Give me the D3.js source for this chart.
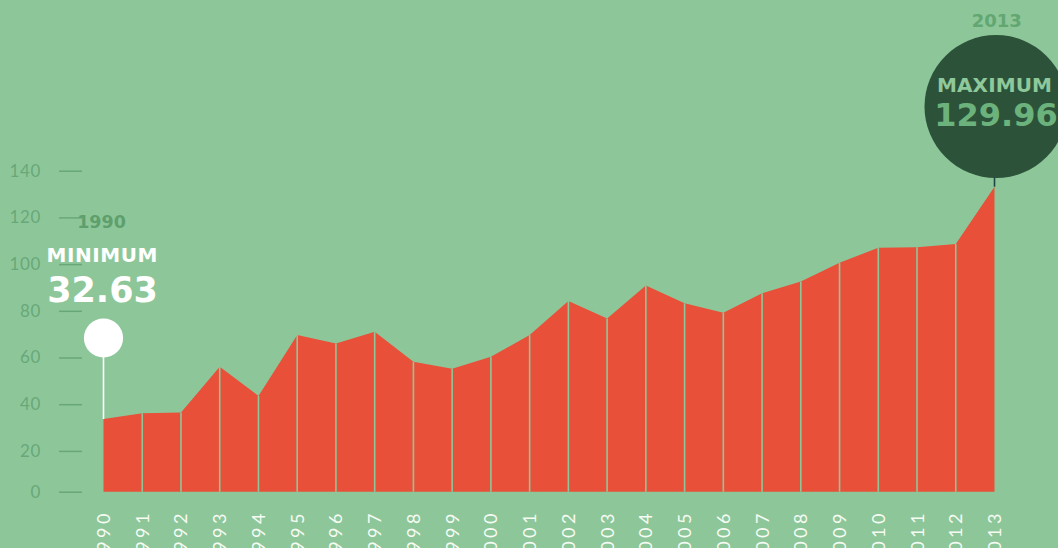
<!DOCTYPE html>
<html>
<head>
<meta charset="utf-8">
<script src="https://cdn.jsdelivr.net/npm/d3@7"></script>
<style>
  html, body { margin: 0; padding: 0; background: #8dc799; overflow: hidden; }
  svg { display: block; }
</style>
</head>
<body>
<svg id="chart" width="1058" height="548"></svg>
<script>
// Yearly series
const years = ["1990","1991","1992","1993","1994","1995","1996","1997","1998","1999","2000","2001",
               "2002","2003","2004","2005","2006","2007","2008","2009","2010","2011","2012","2013"];
const values = [32.63, 35.0, 35.4, 54.5, 42.3, 67.8, 64.3, 69.2, 56.6, 53.7, 58.7, 67.8,
                82.1, 74.7, 88.6, 81.1, 77.2, 85.3, 90.2, 98.1, 104.4, 104.6, 106.0, 129.96];
const yTicks = [0, 20, 40, 60, 80, 100, 120, 140];

const BG = "#8dc799", RED = "#e8503a", AXIS = "#68a779";
const data = years.map((y, i) => ({ year: y, value: values[i] }));

const svg = d3.select("#chart");

const x = d3.scalePoint().domain(years).range([103.5, 994.5]);
const yData = d3.scaleLinear().domain([0, d3.max(values)]).range([496.9, 186.7]);
// axis guide; the zero tick is pinned to the baseline of the area
const yAxisScale = d3.scaleLinear().domain([0, 20, 140]).range([491.7, 450.9, 170.7]);
const base = yAxisScale(0);

// y axis: short dashes with light numbers
const yAxis = d3.axisLeft(yAxisScale).tickValues(yTicks).tickSize(23).tickPadding(18);
const gy = svg.append("g").attr("transform", "translate(82,0)").call(yAxis);
gy.select(".domain").remove();
gy.selectAll(".tick line").attr("stroke", AXIS).attr("stroke-width", 1.5);
gy.selectAll(".tick text")
  .attr("fill", AXIS)
  .style("font-family", "Lato, 'Open Sans', sans-serif")
  .style("font-weight", 400)
  .style("font-size", "17px")
  .style("letter-spacing", "0.6px");

// area
const area = d3.area()
  .x(d => x(d.year))
  .y0(base)
  .y1(d => yData(d.value));
svg.append("path").datum(data).attr("d", area).attr("fill", RED);

// thin separators at each year
svg.append("g").selectAll("line")
  .data(data.slice(1, -1))
  .join("line")
  .attr("x1", d => x(d.year)).attr("x2", d => x(d.year))
  .attr("y1", base).attr("y2", d => yData(d.value))
  .attr("stroke", BG).attr("stroke-width", 1.6);

// year labels along the bottom
svg.append("g").selectAll("text")
  .data(data)
  .join("text")
  .attr("transform", d => `translate(${x(d.year)},510) rotate(-90)`)
  .attr("dy", "0.36em")
  .attr("text-anchor", "end")
  .attr("fill", "#f6fbf4")
  .style("font-family", "Lato, 'Open Sans', sans-serif")
  .style("font-weight", 400)
  .style("font-size", "18px")
  .style("letter-spacing", "3.5px")
  .text(d => d.year);

const bold = "'DejaVu Sans', sans-serif";

// minimum marker
const minD = data.reduce((a, b) => (b.value < a.value ? b : a));
const mx = x(minD.year);
svg.append("line")
  .attr("x1", mx).attr("x2", mx)
  .attr("y1", 357).attr("y2", yData(minD.value))
  .attr("stroke", "#ffffff").attr("stroke-width", 1.6);
svg.append("circle").attr("cx", mx).attr("cy", 338).attr("r", 19.6).attr("fill", "#ffffff");
const minG = svg.append("g").attr("text-anchor", "middle").style("font-family", bold).style("font-weight", "bold");
minG.append("text").attr("x", 101.5).attr("y", 228.3).attr("fill", "#5e9f6d")
  .style("font-size", "17.5px").text(minD.year);
minG.append("text").attr("x", 102).attr("y", 262.3).attr("fill", "#ffffff")
  .style("font-size", "20px").attr("textLength", 111).attr("lengthAdjust", "spacing").text("MINIMUM");
minG.append("text").attr("x", 102.5).attr("y", 301.7).attr("fill", "#ffffff")
  .style("font-size", "35px").text(minD.value.toFixed(2));

// maximum marker
const maxD = data.reduce((a, b) => (b.value > a.value ? b : a));
const Mx = x(maxD.year);
svg.append("line")
  .attr("x1", Mx).attr("x2", Mx)
  .attr("y1", 170).attr("y2", yData(maxD.value))
  .attr("stroke", "#1d4644").attr("stroke-width", 1.6);
svg.append("circle").attr("cx", 996).attr("cy", 106.5).attr("r", 71.5).attr("fill", "#2c533a");
const maxG = svg.append("g").attr("text-anchor", "middle").style("font-family", bold).style("font-weight", "bold");
maxG.append("text").attr("x", 996.7).attr("y", 27.3).attr("fill", "#62a672")
  .style("font-size", "18px").text(maxD.year);
maxG.append("text").attr("x", 994.5).attr("y", 91.7).attr("fill", "#8fc89a")
  .style("font-size", "20px").attr("textLength", 115).attr("lengthAdjust", "spacing").text("MAXIMUM");
maxG.append("text").attr("x", 996).attr("y", 125.5).attr("fill", "#6cb27c")
  .style("font-size", "32px").text(maxD.value.toFixed(2));
</script>
</body>
</html>
